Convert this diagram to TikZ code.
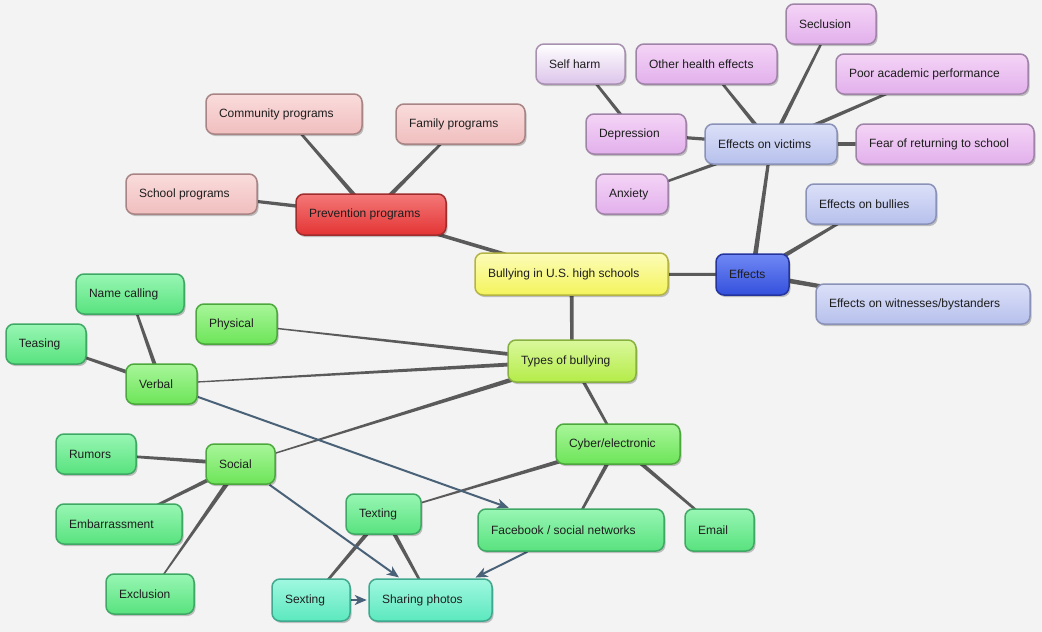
\documentclass[tikz,border=0pt]{standalone}
\usepackage{fontspec}
\setmainfont{Liberation Sans}
\usetikzlibrary{calc,arrows.meta,shadows}
\pgfdeclarelayer{bg}
\pgfdeclarelayer{paperlayer}
\pgfsetlayers{paperlayer,bg,main}
\definecolor{paper}{HTML}{F3F3F3}
\definecolor{linkc}{HTML}{5A5A5A}
\definecolor{arrc}{HTML}{4A6278}
\definecolor{txt}{HTML}{1E1E1E}
\definecolor{HTML-yb}{HTML}{B4B444}
\definecolor{yt}{HTML}{FCFCB8}
\definecolor{yb0}{HTML}{F4F45C}
\definecolor{eb}{HTML}{24349C}\definecolor{et}{HTML}{7088F4}\definecolor{eb0}{HTML}{3450DC}
\definecolor{rb}{HTML}{A02C2C}\definecolor{rt}{HTML}{F47878}\definecolor{rb0}{HTML}{E43434}
\definecolor{pkb}{HTML}{A88484}\definecolor{pkt}{HTML}{FADCDC}\definecolor{pkb0}{HTML}{F0BEBE}
\definecolor{pub}{HTML}{A084A8}\definecolor{put}{HTML}{F4D4F6}\definecolor{pub0}{HTML}{E2B0EC}
\definecolor{lbb}{HTML}{8A92B8}\definecolor{lbt}{HTML}{DCE0F8}\definecolor{lbb0}{HTML}{B6C0EC}
\definecolor{mgb}{HTML}{3FA864}\definecolor{mgt}{HTML}{98F6B4}\definecolor{mgb0}{HTML}{58E27E}
\definecolor{bgb}{HTML}{4CA83C}\definecolor{bgt}{HTML}{A8F69A}\definecolor{bgb0}{HTML}{6CE458}
\definecolor{tyb}{HTML}{88B040}\definecolor{tyt}{HTML}{DAF89C}\definecolor{tyb0}{HTML}{B4EC48}
\definecolor{aqb}{HTML}{3FA88E}\definecolor{aqt}{HTML}{A0F8E0}\definecolor{aqb0}{HTML}{5CE8BE}
\definecolor{shb}{HTML}{A890B0}\definecolor{sht}{HTML}{FFFFFF}\definecolor{shb0}{HTML}{DCC4EA}
\tikzset{
  box/.style={rounded corners=8pt, line width=1.5pt, inner xsep=13pt, inner ysep=2pt,
    minimum height=40pt, font=\fontsize{12}{14}\selectfont, text=txt,
    drop shadow={shadow xshift=1.5pt, shadow yshift=-2pt, opacity=0.22, fill=black}},
  arr/.style={draw=arrc, line width=2pt, shorten >=1.5pt, -{Stealth[length=12pt,width=10pt,inset=3.5pt]}},
  yel/.style={draw=HTML-yb, top color=yt, bottom color=yb0},
  effc/.style={draw=eb, top color=et, bottom color=eb0},
  redc/.style={draw=rb, top color=rt, bottom color=rb0},
  pinkc/.style={draw=pkb, top color=pkt, bottom color=pkb0},
  purc/.style={draw=pub, top color=put, bottom color=pub0},
  lavc/.style={draw=lbb, top color=lbt, bottom color=lbb0},
  mintc/.style={draw=mgb, top color=mgt, bottom color=mgb0},
  grnc/.style={draw=bgb, top color=bgt, bottom color=bgb0},
  typc/.style={draw=tyb, top color=tyt, bottom color=tyb0},
  aquac/.style={draw=aqb, top color=aqt, bottom color=aqb0},
  selfc/.style={draw=shb, top color=sht, bottom color=shb0},
}
\newcommand\nd[6]{\node[box,#5] (#1) at (#2,#3) {\makebox[\dimexpr#4pt-26pt\relax][l]{\raisebox{-0.5pt}{#6}}};}
\newcommand\tapline[4]{\fill[linkc] let \p1=(#1.center), \p2=(#2.center),
  \n1={atan2(\y2-\y1,\x2-\x1)+90} in
  ($(\p1)+(\n1:#3pt)$) -- ($(\p2)+(\n1:#4pt)$) -- ($(\p2)-(\n1:#4pt)$) -- ($(\p1)-(\n1:#3pt)$) -- cycle;}
\begin{document}
\begin{tikzpicture}[x=1pt,y=-1pt]
\begin{pgfonlayer}{paperlayer}
\fill[paper] (0,0) rectangle (1042,632);
\end{pgfonlayer}
\useasboundingbox (0,0) rectangle (1042,632);
% nodes
\nd{bully}{571.5}{274}{193}{yel,minimum height=42pt}{Bullying in U.S. high schools}
\nd{effects}{752.5}{274.5}{73}{effc,minimum height=41pt}{Effects}
\nd{prev}{371}{214.5}{150}{redc,minimum height=41pt}{Prevention programs}
\nd{comm}{284}{114}{156}{pinkc}{Community programs}
\nd{fam}{460.5}{124}{129}{pinkc}{Family programs}
\nd{school}{191.5}{194}{131}{pinkc}{School programs}
\nd{victims}{771}{144}{132}{lavc}{Effects on victims}
\nd{selfharm}{580.5}{64}{89}{selfc}{Self harm}
\nd{other}{706.5}{64}{141}{purc}{Other health effects}
\nd{secl}{831}{24}{90}{purc}{Seclusion}
\nd{poor}{932}{74}{192}{purc}{Poor academic performance}
\nd{depr}{636}{134}{100}{purc}{Depression}
\nd{fear}{945}{144}{178}{purc}{Fear of returning to school}
\nd{anx}{632}{194}{72}{purc}{Anxiety}
\nd{bullies}{871}{204}{130}{lavc}{Effects on bullies}
\nd{witn}{923}{304}{214}{lavc}{Effects on witnesses/bystanders}
\nd{types}{572}{361}{128}{typc,minimum height=42pt}{Types of bullying}
\nd{namec}{130}{294}{108}{mintc}{Name calling}
\nd{teas}{46}{344}{80}{mintc}{Teasing}
\nd{phys}{236.5}{324}{81}{grnc}{Physical}
\nd{verbal}{161.5}{384}{71}{grnc}{Verbal}
\nd{rumors}{96}{454}{80}{mintc}{Rumors}
\nd{social}{240.5}{464}{69}{grnc}{Social}
\nd{embar}{119}{524}{126}{mintc}{Embarrassment}
\nd{excl}{150}{594}{88}{mintc}{Exclusion}
\nd{cyber}{618}{444}{124}{grnc}{Cyber/electronic}
\nd{texting}{383.5}{514}{75}{mintc}{Texting}
\nd{fb}{571}{530}{186}{mintc,minimum height=42pt}{Facebook / social networks}
\nd{email}{719.5}{530}{69}{mintc,minimum height=42pt}{Email}
\nd{sexting}{311}{600}{78}{aquac,minimum height=42pt}{Sexting}
\nd{sharing}{430.5}{600}{123}{aquac,minimum height=42pt}{Sharing photos}
% connectors
\begin{pgfonlayer}{bg}
\tapline{bully}{prev}{2}{1.6}
\tapline{bully}{effects}{1.5}{1.5}
\tapline{bully}{types}{2}{1.6}
\tapline{prev}{comm}{2.3}{1.1}
\tapline{prev}{fam}{2.3}{1.1}
\tapline{prev}{school}{2}{1.3}
\tapline{effects}{victims}{2.5}{1.4}
\tapline{effects}{bullies}{2.5}{1}
\tapline{effects}{witn}{2.5}{1.5}
\tapline{victims}{other}{2.2}{1}
\tapline{victims}{secl}{2.2}{1}
\tapline{victims}{poor}{2.2}{1}
\tapline{victims}{depr}{1.6}{1.6}
\tapline{victims}{fear}{2.2}{2.2}
\tapline{victims}{anx}{2}{1}
\tapline{depr}{selfharm}{1.8}{1.2}
\tapline{types}{phys}{2.2}{0.5}
\tapline{types}{verbal}{2.2}{0.5}
\tapline{types}{social}{2.6}{0.5}
\tapline{types}{cyber}{1.8}{1.2}
\tapline{verbal}{namec}{2.2}{1}
\tapline{verbal}{teas}{2.2}{1}
\tapline{social}{rumors}{2.2}{1}
\tapline{social}{embar}{2.2}{1}
\tapline{social}{excl}{2.5}{0.5}
\tapline{cyber}{texting}{2.5}{0.5}
\tapline{cyber}{fb}{2.2}{1}
\tapline{cyber}{email}{2.2}{1}
\tapline{texting}{sexting}{2.3}{1}
\tapline{texting}{sharing}{2.3}{1}
\draw[arr] (verbal) -- (fb);
\draw[arr] (social) -- (sharing);
\draw[arr] (fb) -- (sharing);
\draw[arr] (sexting) -- (sharing);
\end{pgfonlayer}
\end{tikzpicture}
\end{document}
